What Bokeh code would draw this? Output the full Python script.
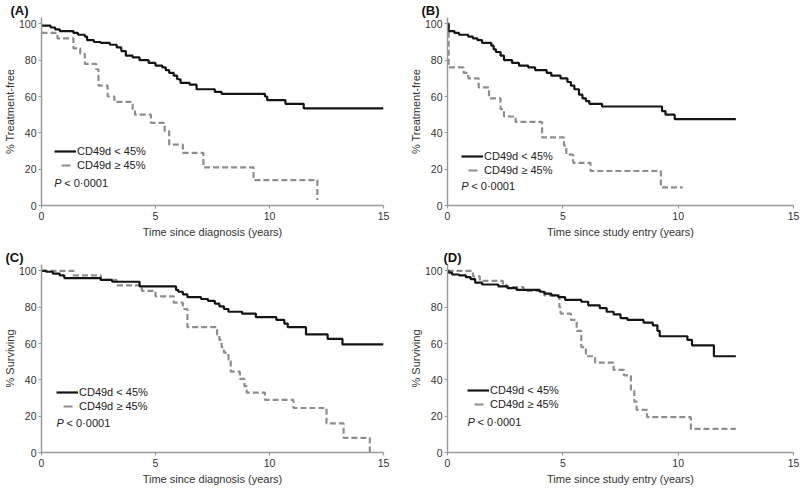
from bokeh.plotting import figure
from bokeh.layouts import gridplot
from bokeh.models import Range1d, FixedTicker, Legend, LegendItem, Label, ColumnDataSource, Title
from bokeh.embed import file_html
from bokeh.resources import INLINE

# ---------------- data ----------------
label_low = "CD49d < 45%"
label_high = "CD49d \u2265 45%"
p_text = "< 0\u00b70001"

# Panel A: treatment-free, time since diagnosis
a_low_t = [0, 0.4, 0.6, 0.8, 1.4, 1.6, 1.9, 2.0, 2.3, 2.6, 3.0, 3.3, 3.5, 3.7, 4.0, 4.3, 4.7, 5.0,
           5.3, 5.45, 5.6, 5.8, 5.95, 6.1, 6.5, 6.8, 7.6, 7.9, 9.8, 9.9, 10.7, 11.5, 15.0]
a_low_s = [99, 98, 97, 96, 95, 94, 93, 91, 90, 89.5, 88.5, 87, 85, 82.5, 81.5, 80, 78.5, 77,
           76, 74.5, 73, 71.5, 69.5, 67.5, 66.5, 64, 62.5, 61.5, 60, 58, 56, 53.5, 53.5]
a_high_t = [0, 0.7, 1.4, 1.7, 1.9, 2.4, 2.5, 2.9, 3.2, 4.0, 4.1, 4.8, 5.4, 5.6, 6.2, 7.1, 9.3, 12.1]
a_high_s = [95, 92, 86.5, 83.5, 78, 75, 66, 60, 57, 53, 50, 45.5, 41, 33.5, 29, 21, 14, 3]

# Panel B: treatment-free, time since study entry
b_low_t = [0, 0.05, 0.3, 0.5, 0.9, 1.1, 1.3, 1.5, 1.9, 2.0, 2.1, 2.3, 2.45, 2.8, 3.1, 3.5, 3.8,
           4.3, 4.5, 4.9, 5.2, 5.35, 5.5, 5.7, 5.85, 6.0, 6.15, 6.7, 9.3, 9.45, 9.85, 12.5]
b_low_s = [100, 96, 95, 94, 93, 92, 91, 89.5, 88, 86, 84.5, 82.5, 80, 78.5, 77, 76, 74.5,
           73, 71.5, 70, 68, 66, 64, 61, 59, 57.5, 56, 54.5, 52, 50, 47.5, 47.5]
b_high_t = [0, 0.05, 0.7, 0.9, 1.35, 1.8, 2.3, 2.45, 2.95, 4.1, 5.05, 5.15, 5.45, 6.2, 9.25, 10.2]
b_high_s = [100, 76, 73, 70, 65, 59, 53, 49, 46, 37.5, 33, 28, 23.5, 19, 10, 10]

# Panel C: surviving, time since diagnosis
c_low_t = [0, 0.2, 0.5, 0.8, 1.0, 2.6, 3.1, 4.3, 5.9, 6.0, 6.2, 6.4, 7.0, 7.3, 7.6, 7.8, 8.0,
           8.2, 8.8, 9.4, 10.3, 10.65, 10.8, 11.6, 12.55, 13.2, 15.0]
c_low_s = [100, 99.5, 98.5, 97.5, 96, 95, 94, 91.5, 89.5, 88.5, 87, 85.5, 84.5, 83.5, 82, 80.5, 79,
           77.5, 76.5, 74.5, 73, 71, 69, 65, 62.5, 59.5, 59.5]
c_high_t = [0, 1.4, 2.6, 3.3, 4.4, 5.0, 5.8, 6.2, 6.4, 7.7, 7.8, 7.9, 8.0, 8.2, 8.3, 8.7, 8.9,
            9.0, 9.8, 11.05, 12.5, 13.25, 14.4]
c_high_s = [100, 97.5, 95, 92, 89, 86, 82.5, 79, 69, 64.5, 62, 58, 55, 51, 44.5, 40.5, 36.5,
            33, 29, 24.5, 16, 8, 0]

# Panel D: surviving, time since study entry
d_low_t = [0, 0.05, 0.2, 0.5, 0.8, 1.0, 1.2, 1.5, 2.2, 2.6, 3.0, 4.0, 4.2, 4.5, 4.8, 5.1, 5.8,
           6.1, 6.6, 6.9, 7.2, 7.5, 7.8, 8.5, 8.9, 9.1, 9.2, 10.4, 10.6, 11.55, 12.5]
d_low_s = [100, 99, 98, 97.5, 96.5, 95.5, 93.5, 92.5, 91.5, 90.5, 89.5, 88.5, 87.5, 86.5, 85.5, 84, 83,
           81, 79.5, 77.5, 76, 74, 73, 71.5, 70, 67, 64, 62, 59, 53, 53]
d_high_t = [0, 1.1, 1.4, 2.4, 2.6, 3.3, 4.2, 4.85, 4.9, 5.35, 5.6, 5.8, 6.0, 6.4, 7.2, 7.65, 7.95,
            8.1, 8.2, 8.65, 10.55, 12.5]
d_high_s = [100, 97, 94.5, 92, 91, 89, 86.5, 80, 76.5, 73, 67, 58, 53, 49.5, 45.5, 42.5, 34,
            28, 23.5, 19.5, 13, 13]

x_ticks = [0, 5, 10, 15]
y_ticks = [0, 20, 40, 60, 80, 100]

# ---------------- styling ----------------
FONT = "Liberation Sans"
BLACK = "#141414"
GREY = "#8e8e8e"
AXIS = "#9a9a9a"
NAN = float("nan")


def panel(letter, lt, ls, ht, hs, xlabel, ylabel, left, right, top, bottom,
          letter_off, leg_loc, p_x, p_y):
    p = figure(width=400, height=245, output_backend="svg", toolbar_location=None,
               x_range=Range1d(0, 15), y_range=Range1d(0, 103.5),
               min_border_left=left, min_border_right=right,
               min_border_top=top, min_border_bottom=bottom)
    p.outline_line_color = None
    p.xgrid.visible = False
    p.ygrid.visible = False
    for ax in (p.xaxis[0], p.yaxis[0]):
        ax.axis_line_color = AXIS
        ax.axis_line_width = 1.5
        ax.major_tick_line_color = AXIS
        ax.major_tick_line_width = 1.2
        ax.major_tick_in = 0
        ax.major_tick_out = 3
        ax.minor_tick_line_color = None
        ax.major_label_text_font = FONT
        ax.major_label_text_font_size = "10.5px"
        ax.major_label_text_color = "#333333"
        ax.axis_label_text_font = FONT
        ax.axis_label_text_font_size = "11px"
        ax.axis_label_text_font_style = "normal"
        ax.axis_label_text_color = "#333333"
    p.xaxis.ticker = FixedTicker(ticks=x_ticks)
    p.yaxis.ticker = FixedTicker(ticks=y_ticks)
    p.xaxis.axis_label = xlabel
    p.yaxis.axis_label = ylabel
    p.xaxis.major_label_standoff = 3
    p.yaxis.major_label_standoff = 2
    p.xaxis.axis_label_standoff = 3
    p.yaxis.axis_label_standoff = 0

    src_low = ColumnDataSource(dict(t=lt, s=ls))
    src_high = ColumnDataSource(dict(t=ht, s=hs))
    p.step("t", "s", source=src_high, mode="after", line_color=GREY, line_width=2.2,
           line_dash="6 3")
    p.step("t", "s", source=src_low, mode="after", line_color=BLACK, line_width=2.2)

    # legend samples (invisible single-NaN renderers, used only for legend glyphs)
    dummy = ColumnDataSource(dict(t=[NAN], s=[NAN]))
    r_low = p.line("t", "s", source=dummy, line_color=BLACK, line_width=2.2)
    r_high = p.line("t", "s", source=dummy, line_color=GREY, line_width=2.2,
                    line_dash="0 7 9 30")
    legend = Legend(items=[LegendItem(label=label_low, renderers=[r_low]),
                           LegendItem(label=label_high, renderers=[r_high])],
                    location=leg_loc, orientation="vertical",
                    glyph_width=22, glyph_height=14, label_height=14,
                    label_standoff=1, spacing=0, padding=0, margin=0,
                    border_line_color=None, background_fill_alpha=0,
                    label_text_font=FONT, label_text_font_size="11px",
                    label_text_color="#222222")
    p.add_layout(legend, "center")

    p.add_layout(Label(x=p_x, y=p_y, text="P", text_font=FONT, text_font_size="11px",
                       text_font_style="italic", text_color="#222222",
                       text_baseline="middle"))
    p.add_layout(Label(x=p_x, y=p_y, x_offset=10, text=p_text, text_font=FONT,
                       text_font_size="11px", text_color="#222222",
                       text_baseline="middle"))
    p.add_layout(Title(text=letter, align="left", offset=letter_off, standoff=0,
                       text_font=FONT, text_font_size="13px", text_font_style="bold",
                       text_color="#111111"), "above")
    return p


pa = panel("(A)", a_low_t, a_low_s, a_high_t, a_high_s,
           "Time since diagnosis (years)", "% Treatment-free",
           35, 17, 16, 39, -31, (13, 33), 0.56, 12.5)
pb = panel("(B)", b_low_t, b_low_s, b_high_t, b_high_s,
           "Time since study entry (years)", "% Treatment-free",
           47, 7, 16, 40, -26, (14, 28), 0.6, 11)
pc = panel("(C)", c_low_t, c_low_s, c_high_t, c_high_s,
           "Time since diagnosis (years)", "% Surviving",
           40, 17, 19, 38, -36, (15, 39), 0.66, 16.5)
pd = panel("(D)", d_low_t, d_low_s, d_high_t, d_high_s,
           "Time since study entry (years)", "% Surviving",
           47, 7, 19, 35, -4, (20, 41), 0.87, 17)

grid = gridplot([[pa, pb], [pc, pd]], toolbar_location=None)

open("out.html", "w").write(file_html(grid, INLINE))
